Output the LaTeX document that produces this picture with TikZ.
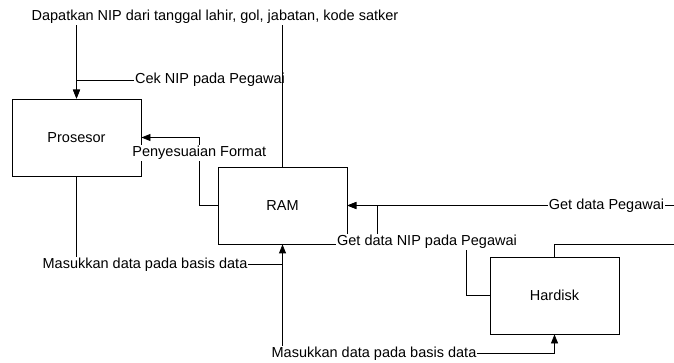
\documentclass[tikz,border=0pt]{standalone}
\usepackage{fontspec}
\setmainfont{Liberation Sans}
\usetikzlibrary{arrows.meta}
\begin{document}
\begin{tikzpicture}[x=1pt,y=-1pt,
  every node/.style={font=\fontsize{14.5}{17}\selectfont},
  unit/.style={draw, line width=0.8pt, minimum width=129pt, minimum height=77pt, inner sep=0pt},
  flow/.style={line width=0.8pt},
  tip/.style={-{Triangle[length=9pt,width=7pt]}},
  lbl/.style={fill=white, inner xsep=1pt, inner ysep=1pt, text height=10.5pt, text depth=3pt},
]
\useasboundingbox (0,0) rectangle (674,363);

% components
\node[unit] (pros) at (76.5,137.5) {Prosesor};
\node[unit] (ram)  at (282.5,205.5) {RAM};
\node[unit] (hdd)  at (554.5,295.5) {Hardisk};

% RAM -> Prosesor (check NIP)
\draw[flow,tip] (ram.north) -- (282.5,80) -- (76.5,80) -- (pros.north);
\node[lbl] (cek) at (210,80) {Cek NIP pada Pegawai};

% RAM -> Prosesor (derive NIP)
\draw[flow,tip] (ram.north) -- (282.5,17) -- (76.5,17) -- (pros.north);
\node[lbl] (nip) at (215,17.25) {Dapatkan NIP dari tanggal lahir, gol, jabatan, kode satker};

% RAM -> Prosesor (format)
\draw[flow,tip] (ram.west) -- (199.3,205.5) -- (199.3,137.5) -- (pros.east);
\node[lbl] (fmt) at (199.3,153) {Penyesuaian Format};

% Prosesor -> RAM (store)
\draw[flow,tip] (pros.south) -- (76.5,264.5) -- (282.5,264.5) -- (ram.south);
\node[lbl] (simpan1) at (145,264.5) {Masukkan data pada basis data};

% RAM -> Hardisk (store)
\draw[flow,tip] (ram.south) -- (282.5,353) -- (554.5,353) -- (hdd.south);
\node[lbl] (simpan2) at (374,353.5) {Masukkan data pada basis data};

% Hardisk -> RAM (NIP lookup)
\draw[flow,tip] (hdd.west) -- (466,295.5) -- (466,242) -- (377,242) -- (377,205.5) -- (ram.east);
\node[lbl] (getnip) at (427,242) {Get data NIP pada Pegawai};

% Hardisk -> RAM (employee data, routed past the right edge)
\coordinate (outA) at (674,244);
\coordinate (outB) at (674,205.5);
\draw[flow] (hdd.north) |- (outA);
\draw[flow,tip] (outB) -- (ram.east);
\node[lbl] (getpeg) at (606.5,206) {Get data Pegawai};
\end{tikzpicture}
\end{document}
